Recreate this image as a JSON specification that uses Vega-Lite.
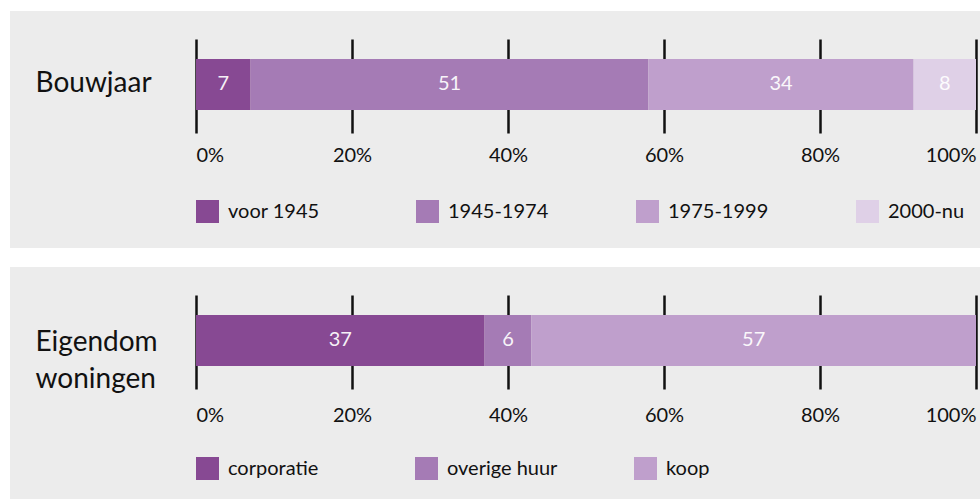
{
  "$schema": "https://vega.github.io/schema/vega-lite/v6.json",
  "background": "#ffffff",
  "padding": {"left": 10, "top": 11, "right": 0, "bottom": 0},
  "spacing": 19,
  "config": {"view": {"stroke": null}, "font": "Lato"},
  "resolve": {"scale": {"color": "independent", "x": "independent", "y": "independent"}, "legend": {"color": "independent"}},
  "vconcat": [
    {
      "width": 970,
      "height": 237,
      "view": {"fill": "#ececec", "stroke": null},
      "data": {"values": [
        {"group": "Bouwjaar", "cls": "voor 1945", "k": 1, "value": 7},
        {"group": "Bouwjaar", "cls": "1945-1974", "k": 2, "value": 51},
        {"group": "Bouwjaar", "cls": "1975-1999", "k": 3, "value": 34},
        {"group": "Bouwjaar", "cls": "2000-nu", "k": 4, "value": 8}
      ]},
      "encoding": {
        "y": {"field": "group", "type": "nominal", "scale": {"paddingInner": 0.4516, "paddingOuter": 1, "align": 0.258},
          "axis": {"title": null, "domain": false, "ticks": false, "labelAlign": "left", "labelBaseline": "middle", "labelPadding": -25, "labelFont": "Lato", "labelFontSize": 28, "labelColor": "#111111", "labelLimit": 0}},
        "order": {"field": "k", "type": "quantitative"}
      },
      "layer": [
        {
          "mark": {"type": "bar"},
          "encoding": {
            "x": {"field": "value", "type": "quantitative", "stack": "zero", "scale": {"domain": [0, 100], "range": [186, 966], "nice": false},
              "axis": {"title": null, "orient": "bottom", "offset": -115, "domain": false, "grid": false, "values": [0, 20, 40, 60, 80, 100], "labelExpr": "datum.value + '%'", "tickSize": -94, "tickWidth": 2.5, "tickColor": "#111111", "labelPadding": 116, "labelBaseline": "middle", "labelFlush": true, "labelOverlap": false, "labelFont": "Lato", "labelFontSize": 20, "labelColor": "#111111", "zindex": 0}},
            "color": {"field": "cls", "type": "nominal",
              "scale": {"domain": ["voor 1945", "1945-1974", "1975-1999", "2000-nu"], "range": ["#874993", "#a57bb5", "#bf9fcc", "#dfd0e7"]},
              "legend": {"orient": "none", "legendX": 186, "legendY": 189, "direction": "horizontal", "columns": 4, "gridAlign": "all", "columnPadding": 87, "title": null, "symbolType": "square", "symbolSize": 529, "symbolStrokeWidth": 0, "symbolOpacity": 1, "labelFont": "Lato", "labelFontSize": 20, "labelColor": "#111111", "labelOffset": 9, "labelLimit": 0}}
          }
        },
        {
          "mark": {"type": "text", "font": "Lato", "fontSize": 20, "color": "#ffffff", "opacity": 0.92, "baseline": "middle", "align": "center"},
          "encoding": {
            "x": {"field": "value", "type": "quantitative", "stack": "zero", "bandPosition": 0.5, "scale": {"domain": [0, 100], "range": [186, 966], "nice": false},
              "axis": {"title": null, "orient": "bottom", "offset": -115, "domain": false, "grid": false, "values": [0, 20, 40, 60, 80, 100], "labelExpr": "datum.value + '%'", "tickSize": -94, "tickWidth": 2.5, "tickColor": "#111111", "labelPadding": 116, "labelBaseline": "middle", "labelFlush": true, "labelOverlap": false, "labelFont": "Lato", "labelFontSize": 20, "labelColor": "#111111", "zindex": 0}},
            "detail": {"field": "cls"},
            "text": {"field": "value", "type": "quantitative"}
          }
        }
      ]
    },
    {
      "width": 970,
      "height": 237,
      "view": {"fill": "#ececec", "stroke": null},
      "data": {"values": [
        {"group": "Eigendom woningen", "cls": "corporatie", "k": 1, "value": 37},
        {"group": "Eigendom woningen", "cls": "overige huur", "k": 2, "value": 6},
        {"group": "Eigendom woningen", "cls": "koop", "k": 3, "value": 57}
      ]},
      "encoding": {
        "y": {"field": "group", "type": "nominal", "scale": {"paddingInner": 0.4516, "paddingOuter": 1, "align": 0.258},
          "axis": {"title": null, "domain": false, "ticks": false, "labelAlign": "left", "labelBaseline": "middle", "labelPadding": -25, "labelFont": "Lato", "labelFontSize": 28, "labelColor": "#111111", "labelLimit": 0, "labelLineHeight": 37, "labelExpr": "split(datum.label, ' ')", "labelOffset": 3}},
        "order": {"field": "k", "type": "quantitative"}
      },
      "layer": [
        {
          "mark": {"type": "bar"},
          "encoding": {
            "x": {"field": "value", "type": "quantitative", "stack": "zero", "scale": {"domain": [0, 100], "range": [186, 966], "nice": false},
              "axis": {"title": null, "orient": "bottom", "offset": -115, "domain": false, "grid": false, "values": [0, 20, 40, 60, 80, 100], "labelExpr": "datum.value + '%'", "tickSize": -94, "tickWidth": 2.5, "tickColor": "#111111", "labelPadding": 120, "labelBaseline": "middle", "labelFlush": true, "labelOverlap": false, "labelFont": "Lato", "labelFontSize": 20, "labelColor": "#111111", "zindex": 0}},
            "color": {"field": "cls", "type": "nominal",
              "scale": {"domain": ["corporatie", "overige huur", "koop"], "range": ["#874993", "#a57bb5", "#bf9fcc"]},
              "legend": {"orient": "none", "legendX": 186, "legendY": 190, "direction": "horizontal", "columns": 3, "gridAlign": "all", "columnPadding": 76, "title": null, "symbolType": "square", "symbolSize": 529, "symbolStrokeWidth": 0, "symbolOpacity": 1, "labelFont": "Lato", "labelFontSize": 20, "labelColor": "#111111", "labelOffset": 9, "labelLimit": 0}}
          }
        },
        {
          "mark": {"type": "text", "font": "Lato", "fontSize": 20, "color": "#ffffff", "opacity": 0.92, "baseline": "middle", "align": "center"},
          "encoding": {
            "x": {"field": "value", "type": "quantitative", "stack": "zero", "bandPosition": 0.5, "scale": {"domain": [0, 100], "range": [186, 966], "nice": false},
              "axis": {"title": null, "orient": "bottom", "offset": -115, "domain": false, "grid": false, "values": [0, 20, 40, 60, 80, 100], "labelExpr": "datum.value + '%'", "tickSize": -94, "tickWidth": 2.5, "tickColor": "#111111", "labelPadding": 120, "labelBaseline": "middle", "labelFlush": true, "labelOverlap": false, "labelFont": "Lato", "labelFontSize": 20, "labelColor": "#111111", "zindex": 0}},
            "detail": {"field": "cls"},
            "text": {"field": "value", "type": "quantitative"}
          }
        }
      ]
    }
  ]
}
